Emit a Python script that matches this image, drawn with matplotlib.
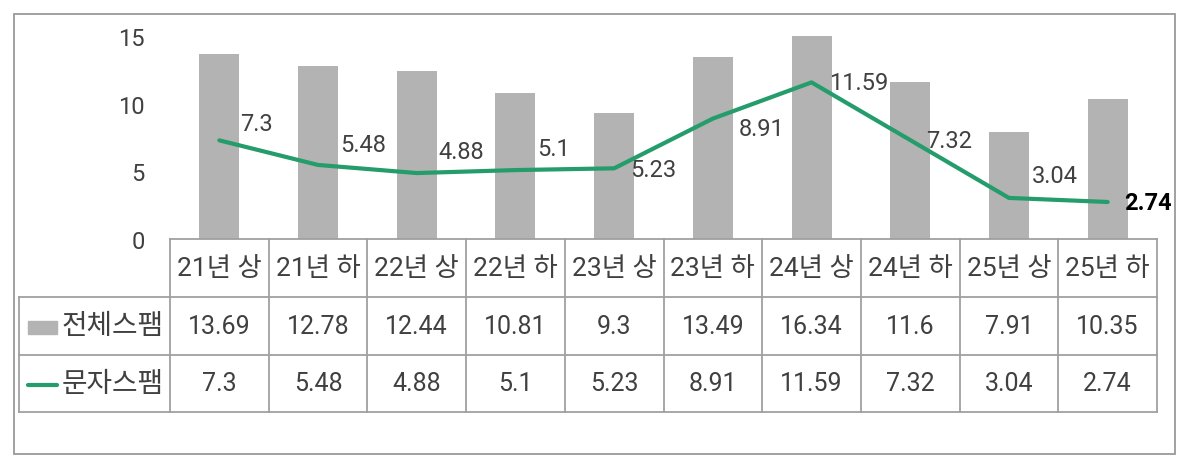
import matplotlib
matplotlib.use("Agg")
import matplotlib.pyplot as plt
from matplotlib.lines import Line2D
from matplotlib.patches import Rectangle
from matplotlib.transforms import blended_transform_factory

plt.rcParams['font.family'] = ['Roboto', 'Noto Sans CJK KR', 'DejaVu Sans']

periods = ['21년 상', '21년 하', '22년 상', '22년 하', '23년 상',
           '23년 하', '24년 상', '24년 하', '25년 상', '25년 하']
total_spam = [13.69, 12.78, 12.44, 10.81, 9.3, 13.49, 16.34, 11.6, 7.91, 10.35]
sms_spam = [7.3, 5.48, 4.88, 5.1, 5.23, 8.91, 11.59, 7.32, 3.04, 2.74]
series_names = ['전체스팸', '문자스팸']
yticks = [0, 5, 10, 15]

# label offsets (pixels) for the line labels, as placed in the original
label_offsets = [(21, 17), (22, 20), (22, 22), (22, 22), (16, -1),
                 (26, -10), (18, 0), (16, 0), (23, 22), (16, -1)]

W, H = 1200, 477
BAR_C = '#B3B3B3'
LINE_C = '#249C6B'
TXT_C = '#404040'
GRID_C = '#A0A0A0'


def fx(px):
    return px / W


def fy(py):
    return 1 - py / H


fig = plt.figure(figsize=(W / 100, H / 100), dpi=100)

# outer frame
fig.patches.append(Rectangle((fx(14), fy(455)), fx(1175) - fx(14), fy(15) - fy(455),
                             transform=fig.transFigure, fill=False,
                             edgecolor='#9A9A9A', linewidth=1.3))

ax = fig.add_axes([fx(170), fy(240), fx(1157) - fx(170), fy(37.3) - fy(240)])
x = list(range(len(periods)))
ax.bar(x, total_spam, width=0.405, color=BAR_C, zorder=2)
ax.plot(x, sms_spam, color=LINE_C, linewidth=3, solid_capstyle='round', zorder=3)

for i, v in enumerate(sms_spam):
    last = i == len(sms_spam) - 1
    ax.annotate(f'{v:g}', (i, v), xytext=label_offsets[i], textcoords='offset pixels',
                ha='left', va='center', fontsize=17,
                color='black' if last else TXT_C,
                fontweight='bold' if last else 'normal', zorder=4)

ax.set_xlim(-0.5, len(periods) - 0.5)
ax.set_ylim(0, 15)
ax.set_yticks(yticks)
ax.set_xticks([])
ax.tick_params(axis='y', length=0, pad=18, labelsize=17, labelcolor=TXT_C)
for s in ax.spines.values():
    s.set_visible(False)

# data table under the chart
tr = blended_transform_factory(ax.transData, fig.transFigure)
rows_y = [240, 298, 356, 413]
lw = 1.3
n = len(periods)

fig.add_artist(Line2D([-0.5, n - 0.5], [fy(rows_y[0])] * 2, transform=tr,
                      color=GRID_C, linewidth=lw))
for yy in rows_y[1:]:
    fig.add_artist(Line2D([fx(19), fx(1157)], [fy(yy)] * 2, transform=fig.transFigure,
                          color=GRID_C, linewidth=lw))
for i in range(n + 1):
    fig.add_artist(Line2D([i - 0.5, i - 0.5], [fy(rows_y[0]), fy(rows_y[3])],
                          transform=tr, color=GRID_C, linewidth=lw))
fig.add_artist(Line2D([fx(19), fx(19)], [fy(rows_y[1]), fy(rows_y[3])],
                      transform=fig.transFigure, color=GRID_C, linewidth=lw))

row_vals = [total_spam, sms_spam]
for i, p in enumerate(periods):
    fig.text(i, fy((rows_y[0] + rows_y[1]) / 2), p, transform=tr, ha='center',
             va='center', fontsize=19, color=TXT_C)
    for r, vals in enumerate(row_vals):
        fig.text(i, fy((rows_y[r + 1] + rows_y[r + 2]) / 2), f'{vals[i]:g}', transform=tr,
                 ha='center', va='center', fontsize=18, color=TXT_C)

# row labels with legend keys
yc0 = fy((rows_y[1] + rows_y[2]) / 2)
yc1 = fy((rows_y[2] + rows_y[3]) / 2)
fig.patches.append(Rectangle((fx(28), fy(335)), fx(57) - fx(28), fy(322) - fy(335),
                             transform=fig.transFigure, color=BAR_C))
fig.add_artist(Line2D([fx(28), fx(57)], [fy(386)] * 2, transform=fig.transFigure,
                      color=LINE_C, linewidth=3, solid_capstyle='round'))
fig.text(fx(62), yc0, series_names[0], ha='left', va='center', fontsize=20, color=TXT_C)
fig.text(fx(62), yc1, series_names[1], ha='left', va='center', fontsize=20, color=TXT_C)

fig.savefig('out.png', dpi=100)
